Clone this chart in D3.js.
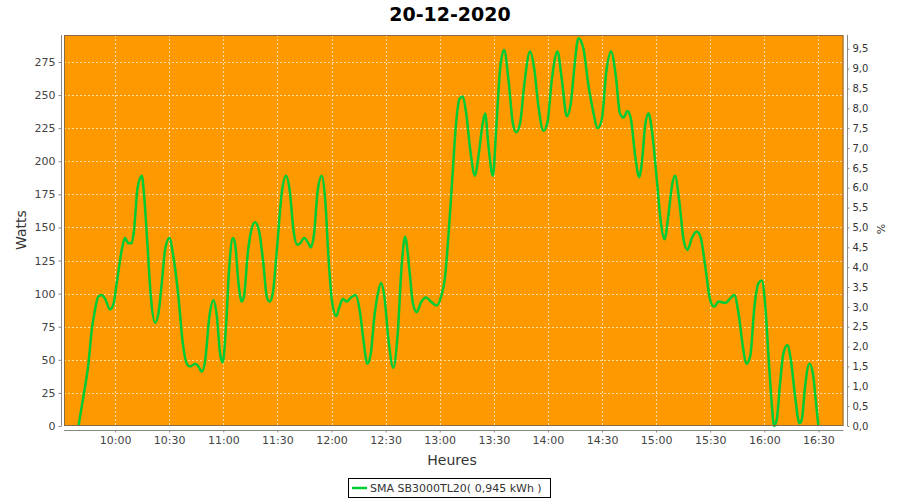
<!DOCTYPE html>
<html><head><meta charset="utf-8">
<script src="https://cdn.jsdelivr.net/npm/d3@7"></script>
<style>body{margin:0;background:#fff}svg{display:block}</style>
</head><body>
<svg id="c" width="900" height="500"></svg>
<script>
// minutes since midnight, 20-12-2020
const times = [
579.7,582.4,585.2,587.1,588.9,590.8,592.6,594.5,597.2,599.1,
600.9,603.7,605.5,607.4,609.2,610.5,612.4,614.8,616.1,617.9,
619.8,622.2,624.0,625.9,627.7,630.1,632.3,635.1,637.5,639.8,
641.6,644.4,646.2,648.1,649.9,652.3,654.5,656.4,658.2,659.7,
661.4,663.2,665.3,666.5,668.4,670.2,671.5,673.4,675.2,677.6,
680.0,682.2,684.1,685.6,687.4,689.7,692.4,694.8,697.0,698.9,
701.1,702.6,704.8,707.2,708.5,710.4,712.2,714.6,716.5,718.3,
720.2,722.6,724.4,726.3,728.5,730.7,733.3,735.9,737.7,739.9,
741.8,743.8,745.7,747.5,749.3,751.6,754.3,756.6,759.0,760.8,
763.2,765.1,767.3,769.5,772.5,775.1,778.4,780.8,783.0,784.8,
786.7,789.1,790.9,792.8,794.6,796.9,799.6,801.5,803.9,805.2,
807.0,809.5,811.3,813.5,815.7,818.1,820.5,822.4,824.6,826.8,
830.1,832.4,834.7,837.5,839.7,842.2,845.3,847.7,850.5,852.7,
855.1,856.9,859.7,862.5,865.2,867.5,869.9,872.4,875.0,877.5,
880.0,881.9,884.1,886.0,888.4,890.6,892.1,893.9,895.8,897.6,
900.4,902.6,904.6,906.8,908.7,910.5,912.9,915.2,917.4,919.8,
922.6,924.8,927.2,930.0,932.2,934.6,938.3,941.5,943.3,945.7,
948.1,950.0,952.2,954.5,956.8,958.6,960.4,962.3,964.1,965.4,
966.9,968.7,970.6,972.8,974.7,977.1,979.5,980.8,982.6,985.0,
986.9,988.7,990.0];
const watts = [
0,22,47,73,88,98,99,96,88,92,
108,133,142,138,138,148,179,189,174,138,
98,78,85,108,133,142,128,98,63,47,
45,47,45,41,49,83,95,83,55,48,
73,118,142,138,108,94,98,128,146,154,
146,123,98,94,100,133,176,189,176,148,
137,138,142,138,135,146,176,189,171,128,
95,83,90,96,94,97,99,85,65,47,
55,83,100,108,98,65,44,68,123,143,
118,93,86,93,97,94,91,98,113,143,
181,229,247,249,237,209,189,204,229,236,
212,189,224,270,284,262,229,222,229,257,
283,270,242,223,229,262,283,262,234,244,
277,293,285,257,237,225,232,268,283,266,
236,233,238,232,204,188,199,227,236,224,
186,154,141,159,181,189,169,141,133,142,
147,142,121,95,90,94,93,97,99,85,
60,47,53,90,108,110,93,53,17,0,
5,32,55,61,50,22,2,5,30,47,
40,17,0];
const title = "20-12-2020";
const seriesName = "SMA SB3000TL20( 0,945 kWh )";
const wattTicks = [0,25,50,75,100,125,150,175,200,225,250,275];
const pctTicks = [0,0.5,1,1.5,2,2.5,3,3.5,4,4.5,5,5.5,6,6.5,7,7.5,8,8.5,9,9.5];
const timeTicks = ["10:00","10:30","11:00","11:30","12:00","12:30","13:00","13:30","14:00","14:30","15:00","15:30","16:00","16:30"];
const xStart = 571.67, xEnd = 1003.9; // minutes
const wattMax = 295.4;

const day = new Date(2020, 11, 20);
const toDate = m => new Date(day.getTime() + m * 60000);
const parseT = s => { const [h, mm] = s.split(":").map(Number); return toDate(h * 60 + mm); };
const data = times.map((t, i) => ({ d: toDate(t), v: watts[i] }));

const L = 64, R = 843.5, T = 35, B = 426;
const svg = d3.select("#c");
const x = d3.scaleTime().domain([toDate(xStart), toDate(xEnd)]).range([L, R]);
const y = d3.scaleLinear().domain([0, wattMax]).range([B, T]);
const y2 = d3.scaleLinear().domain([0, wattMax / 30]).range([B, T]);

const FONT = "DejaVu Sans";
svg.append("text").attr("x", 450).attr("y", 21).attr("text-anchor", "middle")
  .attr("font-family", FONT).attr("font-weight", "bold").attr("font-size", 19).attr("fill", "#000").text(title);

svg.append("rect").attr("x", L).attr("y", T).attr("width", R - L).attr("height", B - T).attr("fill", "#ff9900");

const g = svg.append("g").attr("stroke", "#ffdca0").attr("stroke-width", 1).attr("stroke-dasharray", "2,2");
wattTicks.filter(v => v > 0).forEach(v => {
  g.append("line").attr("x1", L).attr("x2", R).attr("y1", Math.round(y(v)) + 0.5).attr("y2", Math.round(y(v)) + 0.5);
});
timeTicks.forEach(s => {
  const xx = Math.round(x(parseT(s))) + 0.5;
  g.append("line").attr("x1", xx).attr("x2", xx).attr("y1", T).attr("y2", B);
});

const line = d3.line().x(d => x(d.d)).y(d => y(d.v)).curve(d3.curveMonotoneX);
svg.append("path").datum(data).attr("d", line).attr("fill", "none")
  .attr("stroke", "#00cc33").attr("stroke-width", 2.5).attr("stroke-linejoin", "round");

svg.append("rect").attr("x", L + 0.5).attr("y", T + 0.5).attr("width", R - L - 1).attr("height", B - T - 1)
  .attr("fill", "none").attr("stroke", "#8a6a48").attr("stroke-width", 1);

const ga = svg.append("g").attr("transform", "translate(61.5,0)")
  .call(d3.axisLeft(y).tickValues(wattTicks).tickSize(3).tickPadding(3).tickFormat(d3.format("d")));
ga.select(".domain").attr("stroke", "#888").attr("d", `M0,${T}V${B}`);
ga.selectAll(".tick line").attr("stroke", "#888");
ga.selectAll("text").attr("font-family", FONT).attr("font-size", 11).attr("fill", "#444");

const gr = svg.append("g").attr("transform", "translate(847.5,0)")
  .call(d3.axisRight(y2).tickValues(pctTicks).tickSize(2).tickPadding(3).tickFormat(v => d3.format(".1f")(v).replace(".", ",")));
gr.select(".domain").attr("stroke", "#888").attr("d", `M0,${T}V${B}`);
gr.selectAll(".tick line").attr("stroke", "#888");
gr.selectAll("text").attr("font-family", FONT).attr("font-size", 10).attr("fill", "#333");

const gb = svg.append("g").attr("transform", "translate(0,430.5)")
  .call(d3.axisBottom(x).tickValues(timeTicks.map(parseT)).tickSize(2).tickPadding(4).tickFormat(d3.timeFormat("%H:%M")));
gb.select(".domain").attr("stroke", "#888").attr("d", `M${L},0H${R}`);
gb.selectAll(".tick line").attr("stroke", "#888");
gb.selectAll("text").attr("font-family", FONT).attr("font-size", 11).attr("fill", "#444");

svg.append("text").attr("x", 452).attr("y", 465).attr("text-anchor", "middle")
  .attr("font-family", FONT).attr("font-size", 14).attr("fill", "#333").text("Heures");
svg.append("text").attr("transform", "translate(26,230) rotate(-90)").attr("text-anchor", "middle")
  .attr("font-family", FONT).attr("font-size", 14).attr("fill", "#333").text("Watts");
svg.append("text").attr("transform", "translate(885,229) rotate(-90)").attr("text-anchor", "middle")
  .attr("font-family", FONT).attr("font-size", 11).attr("fill", "#333").text("%");

const lg = svg.append("g");
lg.append("rect").attr("x", 348.5).attr("y", 478.5).attr("width", 202).attr("height", 19)
  .attr("fill", "#fff").attr("stroke", "#000");
lg.append("line").attr("x1", 352).attr("x2", 367).attr("y1", 488).attr("y2", 488)
  .attr("stroke", "#00cc33").attr("stroke-width", 2.5);
lg.append("text").attr("x", 370).attr("y", 492).attr("font-family", FONT).attr("font-size", 11)
  .attr("fill", "#333").text(seriesName);
</script>
</body></html>
